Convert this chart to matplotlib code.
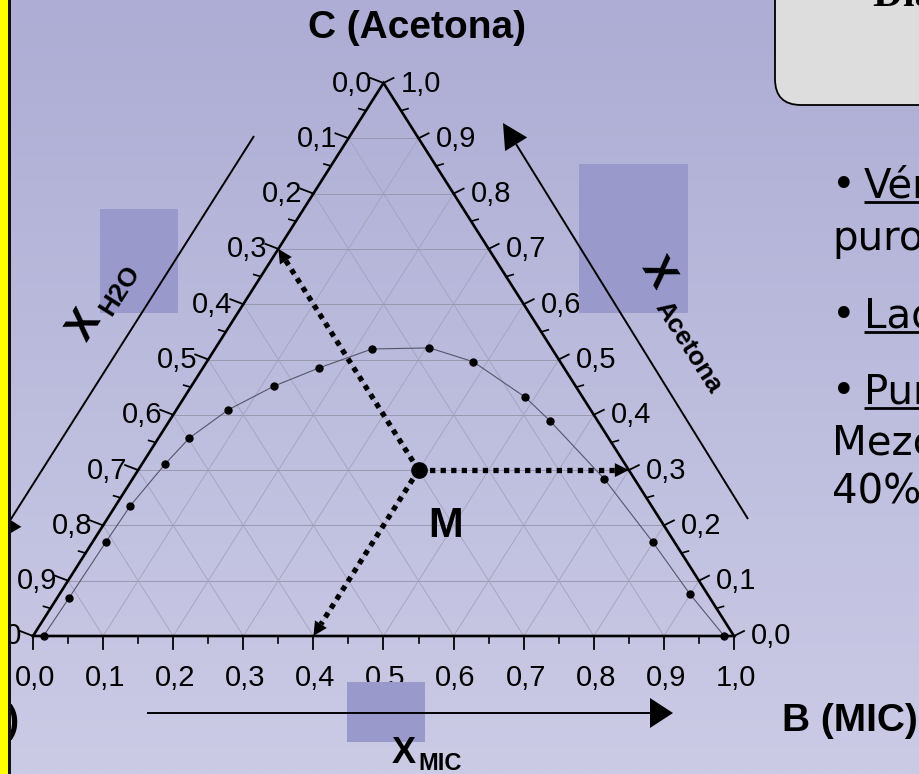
import numpy as np
import matplotlib
matplotlib.use("Agg")
import matplotlib.pyplot as plt
from matplotlib.patches import Polygon, Rectangle, FancyBboxPatch

# binodal curve of the water / MIC / acetone system
# b = mass fraction of MIC, c = mass fraction of acetone (water = 1 - b - c)
mic = [0.015, 0.017, 0.019, 0.021, 0.033, 0.044, 0.074, 0.118, 0.166, 0.224,
       0.305, 0.380, 0.486, 0.543, 0.673, 0.799, 0.899, 0.986]
acetona = [0.0, 0.069, 0.170, 0.235, 0.311, 0.358, 0.409, 0.452, 0.485, 0.519,
           0.521, 0.496, 0.432, 0.389, 0.284, 0.170, 0.076, 0.0]

# mixture M
m_h2o = 0.3
m_mic = 0.4
m_acetona = 0.3

ticks = np.round(np.arange(0, 1.01, 0.1), 1)
minor_ticks = np.round(np.arange(0.05, 1.0, 0.1), 2)
tick_labels = [f"{t:.1f}".replace(".", ",") for t in ticks]

bullets = [
    ("Vértices:", " componentes"),
    ("Lados:", " mezclas binarias"),
    ("Punto M:", " mezcla ternaria"),
]
extra_lines = ["puros", "Mezcla de 30% agua, 30% acetona y", "40% MIC"]

SANS = "Liberation Sans"

# triangle in pixel units
X0, Y0 = 33.0, 636.0
W, H = 701.0, 553.0


def tern(b, c):
    b = np.asarray(b, dtype=float)
    c = np.asarray(c, dtype=float)
    return X0 + W * (b + c / 2), Y0 - H * c


def head(ax, tip, base, half, z):
    tip = np.array(tip, float)
    base = np.array(base, float)
    d = tip - base
    d /= np.hypot(*d)
    p = np.array([-d[1], d[0]])
    ax.add_patch(Polygon([tip, base + p * half, base - p * half],
                         closed=True, fc="k", ec="none", zorder=z))


def arrow(ax, start, tip, hl, hw, lw=1.4, z=6, **kw):
    start = np.array(start, float)
    tip = np.array(tip, float)
    d = tip - start
    d /= np.hypot(*d)
    base = tip - d * hl
    ax.plot([start[0], base[0]], [start[1], base[1]], color="k", lw=lw,
            zorder=z, solid_capstyle="butt", **kw)
    head(ax, tip, base, hw, z)


fig = plt.figure(figsize=(9.2, 7.74), dpi=100)
ax = fig.add_axes([0, 0, 1, 1])

# slide background
top = np.array([173, 173, 213]) / 255
bot = np.array([203, 203, 230]) / 255
g = np.linspace(0, 1, 256)[:, None, None]
bg = top + (bot - top) * g
ax.imshow(np.repeat(bg, 2, axis=1), extent=(0, 920, 774, 0), aspect="auto",
          zorder=0, interpolation="bilinear")
ax.set_xlim(0, 920)
ax.set_ylim(774, 0)
ax.axis("off")

# grid every 0.1
for k in ticks[1:-1]:
    x, y = tern([0, 1 - k], [k, k])
    ax.plot(x, y, color="#9898ae", lw=0.7, zorder=1)
    for bb, cc in (([k, k], [0, 1 - k]), ([1 - k, 0], [0, 1 - k])):
        x, y = tern(bb, cc)
        ax.plot(x, y, color="#a2a2bc", lw=0.6, zorder=1)

# triangle
x, y = tern([0, 1, 0, 0], [0, 0, 1, 0])
ax.plot(x, y, color="k", lw=1.9, zorder=3, solid_joinstyle="miter")

# ticks and tick labels
for t, lab in zip(ticks, tick_labels):
    # left side: water fraction
    ex, ey = tern(0, 1 - t)
    ax.plot([ex, ex - 13], [ey, ey - 5], color="k", lw=1.3, zorder=3)
    ax.text(ex - 11, ey + 8.5, lab, ha="right", va="baseline", fontsize=21,
            family=SANS, zorder=2)
    # right side: acetone fraction
    ex, ey = tern(1 - t, t)
    ax.plot([ex, ex + 10], [ey, ey - 5], color="k", lw=1.3, zorder=3)
    ax.text(ex + 17, ey + 8.5, lab, ha="left", va="baseline", fontsize=21,
            family=SANS, zorder=2)
    # bottom: MIC fraction
    ex, ey = tern(t, 0)
    ax.plot([ex, ex], [ey, ey + 13], color="k", lw=1.3, zorder=3)
    ax.text(ex + 2, ey + 50, lab, ha="center", va="baseline", fontsize=21,
            family=SANS, zorder=2)

for t in minor_ticks:
    ex, ey = tern(0, 1 - t)
    ax.plot([ex, ex - 7], [ey, ey - 2], color="k", lw=1.2, zorder=3)
    ex, ey = tern(1 - t, t)
    ax.plot([ex, ex + 7], [ey, ey - 2], color="k", lw=1.2, zorder=3)
    ex, ey = tern(t, 0)
    ax.plot([ex, ex], [ey, ey + 7], color="k", lw=1.2, zorder=3)

# binodal curve
cx, cy = tern(mic, acetona)
ax.plot(cx, cy, color="#55556a", lw=0.8, zorder=2)
ax.plot(cx, cy, "o", color="k", ms=5, zorder=4)

# mixture M and its read-off lines
mx, my = tern(m_mic, m_acetona)
targets = [tern(0, 1 - m_h2o), tern(1 - m_acetona, m_acetona), tern(m_mic, 0)]
for tx, ty in targets:
    d = np.array([tx - mx, ty - my])
    d /= np.hypot(*d)
    bx, by = np.array([tx, ty]) - d * 14
    ax.plot([mx, bx], [my, by], color="k", lw=3.8, ls=(0, (1, 1)),
            dash_capstyle="butt", zorder=4)
    head(ax, (tx, ty), (bx, by), 7, 4)
ax.plot(mx, my, "o", color="k", ms=11, zorder=5)
ax.text(428, 537, "M", fontsize=30, fontweight="bold", family=SANS,
        va="baseline", zorder=5)

# vertex names
ax.text(417, 28, "C (Acetona)", fontsize=28, fontweight="bold", family=SANS,
        ha="center", va="center", zorder=5)
ax.text(782, 731, "B (MIC)", fontsize=28, fontweight="bold", family=SANS,
        ha="left", va="baseline", zorder=5)
ax.text(19, 732, "A (H2O)", fontsize=28, fontweight="bold", family=SANS,
        ha="right", va="baseline", zorder=5)

# highlight boxes
for x0, y0, x1, y1 in [(100, 209, 178, 313), (579, 164, 688, 313), (347, 682, 425, 742)]:
    ax.add_patch(Rectangle((x0, y0), x1 - x0, y1 - y0, fc="#9999cc", ec="none",
                           zorder=5))

# axis direction arrows
arrow(ax, (254, 136), (-3, 541), 25, 13)
arrow(ax, (748, 519), (503, 123), 25, 13)
arrow(ax, (147, 713), (673, 713), 23, 15)

ax.text(85, 325, "X", fontsize=30, fontweight="bold", family=SANS, rotation=57.5,
        ha="center", va="center", zorder=7)
ax.text(120, 290, "H2O", fontsize=19, fontweight="bold", family=SANS, rotation=57.5,
        ha="center", va="center", zorder=7)
ax.text(657, 273, "X", fontsize=30, fontweight="bold", family=SANS, rotation=-57.5,
        ha="center", va="center", zorder=7)
ax.text(688, 347, "Acetona", fontsize=19, fontweight="bold", family=SANS,
        rotation=-57.5, ha="center", va="center", zorder=7)
ax.text(392, 763, "X", fontsize=26, fontweight="bold", family=SANS,
        va="baseline", zorder=7)
ax.text(418, 770, "MIC", fontsize=17, fontweight="bold", family=SANS,
        va="baseline", zorder=7)

# title box
ax.add_patch(FancyBboxPatch((775, -80), 220, 185,
                            boxstyle="round,pad=0,rounding_size=26",
                            fc="#dddddd", ec="k", lw=1.3, zorder=5))
ax.text(873, 6, "Diagrama triangular", fontsize=30, fontweight="bold",
        family="Liberation Serif", va="baseline", zorder=6)

# bullet text
renderer = fig.canvas.get_renderer()
inv = ax.transData.inverted()
for (word, rest), yb in zip(bullets, [197, 327, 403]):
    ax.text(832, yb, "\u2022", fontsize=29, family="DejaVu Sans", va="baseline",
            zorder=6)
    t = ax.text(864, yb, word, fontsize=29, family="DejaVu Sans", va="baseline",
                zorder=6)
    ext = t.get_window_extent(renderer)
    (x0, _), (x1, _) = inv.transform([[ext.x0, ext.y0], [ext.x1, ext.y1]])
    ax.plot([x0, x1], [yb + 5, yb + 5], color="k", lw=2, zorder=6,
            solid_capstyle="butt")
    ax.text(x1, yb, rest, fontsize=29, family="DejaVu Sans", va="baseline",
            zorder=6)
for line, yb in zip(extra_lines, [250, 455, 503]):
    ax.text(832, yb, line, fontsize=29, family="DejaVu Sans", va="baseline",
            zorder=6)

# slide border on the left
ax.add_patch(Rectangle((0, 0), 8.3, 774, fc="#ffff00", ec="none", zorder=9))
ax.add_patch(Rectangle((8.3, 0), 2.7, 774, fc="#111111", ec="none", zorder=9))

fig.savefig("out.png", dpi=100)
